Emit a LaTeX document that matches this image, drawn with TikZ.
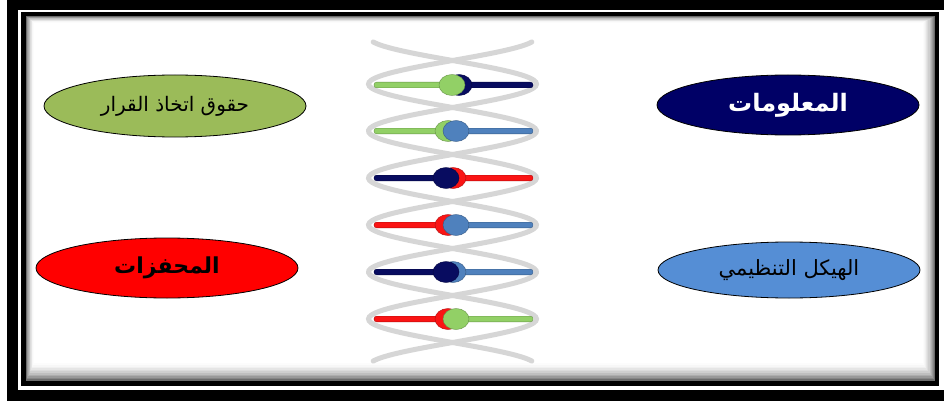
\documentclass[tikz,border=0pt]{standalone}
\usepackage{fontspec}
\usetikzlibrary{shapes.geometric}
\newfontfamily\arabicfont[Script=Arabic]{DejaVu Sans}
\TeXXeTstate=1

\definecolor{ovalOlive}{RGB}{155,187,89}
\definecolor{ovalNavy}{RGB}{0,0,102}
\definecolor{ovalRed}{RGB}{255,0,0}
\definecolor{ovalBlue}{RGB}{85,142,213}
\definecolor{barGreen}{RGB}{146,208,102}
\definecolor{barNavy}{RGB}{8,12,96}
\definecolor{barRed}{RGB}{250,20,20}
\definecolor{barBlue}{RGB}{79,129,189}
\definecolor{strandGray}{RGB}{214,214,214}

\begin{document}
\begin{tikzpicture}[
        x=1pt, y=-1pt,
        oval/.style={ellipse, draw=black, line width=0.8pt, inner sep=0pt,
                     minimum width=262pt, minimum height=60pt},
        strand/.style={draw=strandGray, line width=5pt, line cap=round},
        bar/.style={line width=0.4pt, rounded corners=2.5pt},
        knob/.style={line width=0.4pt},
    ]
    \useasboundingbox (0,0) rectangle (944,401);

    % double frame with inner shadow
    \fill[black] (7,0) rectangle (944,401);
    \fill[white] (18,10) rectangle (944,390);
    \fill[black] (21,12) rectangle (939,386);
    \foreach \i in {0,...,11} {
        \pgfmathtruncatemacro\shade{58*(1-\i/12)^2}
        \fill[black!\shade] (26+0.7*\i,16+0.6*\i) rectangle (935-1.1*\i,381-1.6*\i);
    }

    % helix
    \draw[strand] plot[domain=42:361, samples=160, smooth]
        ({452.5+84*sin((\x-60.5)/47*180)}, \x);
    \draw[strand] plot[domain=42:361, samples=160, smooth]
        ({452.5-84*sin((\x-60.5)/47*180)}, \x);

    % rungs: y / left bar / right bar / front x / front / back x / back
    \foreach \y/\lc/\rc/\fx/\fc/\bx/\bc in {
            85/barGreen/barNavy/452/barGreen/459/barNavy,
            131/barGreen/barBlue/456/barBlue/448/barGreen,
            178/barNavy/barRed/446/barNavy/453/barRed,
            225/barRed/barBlue/456/barBlue/448/barRed,
            272/barNavy/barBlue/446/barNavy/453/barBlue,
            319/barRed/barGreen/456/barGreen/448/barRed} {
        \filldraw[bar, fill=\lc, draw=\lc!70!black] (374,\y-2.8) rectangle (452,\y+2.8);
        \filldraw[bar, fill=\rc, draw=\rc!70!black] (452,\y-2.8) rectangle (533,\y+2.8);
        \filldraw[knob, fill=\bc, draw=\bc!70!black] (\bx,\y) ellipse [x radius=13pt, y radius=10.5pt];
        \filldraw[knob, fill=\fc, draw=\fc!70!black] (\fx,\y) ellipse [x radius=13pt, y radius=10.5pt];
    }

    \node[oval, fill=ovalOlive, minimum height=62pt] (rights) at (175,106)
        {\arabicfont\fontsize{20pt}{24pt}\selectfont\beginR حقوق اتخاذ القرار\endR};
    \node[oval, fill=ovalNavy] (info) at (788,105)
        {\arabicfont\bfseries\fontsize{24pt}{28pt}\selectfont\color{white}\beginR المعلومات\endR};
    \node[oval, fill=ovalRed] (incentives) at (167,268)
        {\arabicfont\bfseries\fontsize{22pt}{26pt}\selectfont\beginR المحفزات\endR};
    \node[oval, fill=ovalBlue, minimum height=56pt] (structure) at (789,270)
        {\arabicfont\fontsize{21pt}{25pt}\selectfont\beginR الهيكل التنظيمي\endR};
\end{tikzpicture}
\end{document}
